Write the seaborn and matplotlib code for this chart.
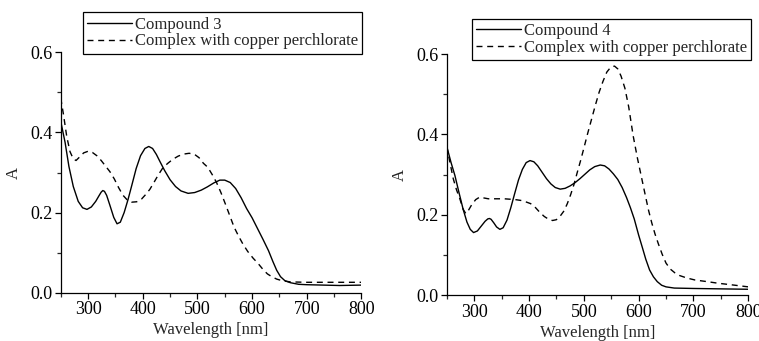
import matplotlib
matplotlib.use("Agg")
import matplotlib.pyplot as plt
from matplotlib.ticker import MultipleLocator, FormatStrFormatter
import seaborn as sns
import pandas as pd

sns.set_theme(style="ticks")
plt.rcParams['font.family'] = ['Liberation Serif', 'DejaVu Serif']

# --- Left panel: compound 3 ---
wl_c3 = [250, 258, 265, 273, 282, 290, 298, 306, 314, 320, 324, 327, 330, 334,
         340, 347, 353, 359, 366, 373, 380, 388, 396, 404, 411, 418, 425, 432,
         440, 450, 460, 470, 483, 495, 507, 518, 530, 541, 550, 560, 570, 580,
         590, 600, 610, 620, 630, 638, 645, 652, 660, 670, 685, 700, 730, 760,
         800]
abs_c3 = [0.428, 0.375, 0.315, 0.265, 0.228, 0.212, 0.208, 0.214, 0.228, 0.242,
          0.251, 0.255, 0.253, 0.243, 0.218, 0.188, 0.172, 0.176, 0.200, 0.232,
          0.268, 0.310, 0.342, 0.360, 0.365, 0.360, 0.345, 0.326, 0.305, 0.282,
          0.265, 0.254, 0.248, 0.250, 0.256, 0.264, 0.274, 0.281, 0.281, 0.275,
          0.260, 0.237, 0.210, 0.187, 0.160, 0.133, 0.105, 0.078, 0.056, 0.040,
          0.030, 0.025, 0.021, 0.020, 0.019, 0.018, 0.019]

wl_cu3 = [250, 255, 261, 267, 273, 278, 284, 292, 300, 308, 316, 324, 332, 340,
          348, 356, 364, 372, 380, 389, 398, 406, 413, 420, 428, 436, 445, 455,
          465, 475, 485, 495, 503, 511, 519, 527, 535, 543, 551, 559, 567, 575,
          583, 592, 602, 611, 620, 628, 636, 645, 655, 670, 700, 750, 800]
abs_cu3 = [0.486, 0.445, 0.390, 0.352, 0.334, 0.330, 0.338, 0.349, 0.353, 0.350,
           0.342, 0.330, 0.316, 0.302, 0.284, 0.262, 0.243, 0.231, 0.226, 0.227,
           0.234, 0.246, 0.258, 0.274, 0.293, 0.310, 0.322, 0.333, 0.341, 0.346,
           0.348, 0.345, 0.337, 0.323, 0.313, 0.295, 0.275, 0.250, 0.222, 0.193,
           0.164, 0.142, 0.122, 0.103, 0.086, 0.073, 0.058, 0.047, 0.040, 0.034,
           0.030, 0.027, 0.026, 0.026, 0.026]

# --- Right panel: compound 4 ---
wl_c4 = [250, 258, 265, 272, 280, 287, 293, 299, 306, 313, 320, 325, 328, 331,
         336, 341, 347, 353, 360, 367, 374, 381, 388, 395, 402, 409, 416, 424,
         432, 440, 448, 457, 466, 475, 484, 493, 502, 511, 520, 530, 538, 546,
         554, 562, 570, 578, 585, 592, 600, 607, 613, 620, 627, 634, 642, 650,
         665, 700, 750, 800]
abs_c4 = [0.371, 0.330, 0.298, 0.258, 0.214, 0.182, 0.164, 0.156, 0.160, 0.172,
          0.184, 0.190, 0.191, 0.189, 0.180, 0.170, 0.164, 0.168, 0.187, 0.218,
          0.253, 0.287, 0.313, 0.330, 0.335, 0.332, 0.322, 0.306, 0.290, 0.277,
          0.268, 0.264, 0.266, 0.272, 0.280, 0.290, 0.301, 0.312, 0.320, 0.324,
          0.322, 0.314, 0.302, 0.288, 0.268, 0.243, 0.218, 0.190, 0.150, 0.118,
          0.090, 0.063, 0.046, 0.034, 0.025, 0.021, 0.018, 0.017, 0.016, 0.015]

wl_cu4 = [250, 256, 262, 268, 274, 280, 285, 290, 296, 303, 310, 318, 326, 335,
          345, 355, 365, 375, 385, 395, 403, 412, 420, 428, 436, 443, 450, 457,
          464, 470, 476, 482, 488, 494, 500, 507, 514, 521, 528, 535, 542, 549,
          556, 562, 568, 575, 582, 590, 598, 605, 612, 618, 624, 630, 636, 643,
          650, 658, 666, 675, 688, 703, 725, 745, 770, 800]
abs_cu4 = [0.371, 0.330, 0.290, 0.262, 0.240, 0.214, 0.203, 0.212, 0.226, 0.238,
           0.244, 0.242, 0.240, 0.240, 0.240, 0.240, 0.239, 0.238, 0.236, 0.232,
           0.228, 0.218, 0.206, 0.196, 0.189, 0.186, 0.188, 0.197, 0.210, 0.228,
           0.250, 0.275, 0.305, 0.334, 0.365, 0.402, 0.437, 0.472, 0.505, 0.532,
           0.555, 0.567, 0.570, 0.563, 0.545, 0.515, 0.468, 0.397, 0.340, 0.295,
           0.250, 0.212, 0.180, 0.152, 0.128, 0.102, 0.080, 0.065, 0.056, 0.049,
           0.043, 0.038, 0.034, 0.030, 0.026, 0.021]

panels = [
    ("Compound 3", wl_c3, abs_c3, wl_cu3, abs_cu3),
    ("Compound 4", wl_c4, abs_c4, wl_cu4, abs_cu4),
]
cu_label = "Complex with copper perchlorate"

FS = 12
TICK_FS = 13
fig = plt.figure(figsize=(7.59, 3.41), dpi=100)
axes = [fig.add_axes([0.080, 0.1416, 0.3962, 0.705]),
        fig.add_axes([0.5885, 0.134, 0.3974, 0.7076])]
legend_anchor = [(1.003, 0.995), (1.01, 0.975)]

for ax, (name, wl, a, wl_cu, a_cu), anchor in zip(axes, panels, legend_anchor):
    sns.lineplot(x=wl, y=a, ax=ax, color="black", lw=1.0, label=name)
    sns.lineplot(x=wl_cu, y=a_cu, ax=ax, color="black", lw=1.0,
                 linestyle=(0, (4.3, 3.4)), label=cu_label)
    ax.set_xlim(250, 800)
    ax.set_ylim(0, 0.6)
    ax.xaxis.set_major_locator(MultipleLocator(100))
    ax.xaxis.set_minor_locator(MultipleLocator(50))
    ax.yaxis.set_major_locator(MultipleLocator(0.2))
    ax.yaxis.set_minor_locator(MultipleLocator(0.1))
    ax.yaxis.set_major_formatter(FormatStrFormatter('%.1f'))
    ax.set_xticks([300, 400, 500, 600, 700, 800])
    ax.tick_params(which='major', direction='out', length=4, width=0.9,
                   labelsize=TICK_FS, pad=2, colors='black')
    ax.tick_params(which='minor', direction='out', length=3, width=0.9)
    for s in ['left', 'bottom']:
        ax.spines[s].set_linewidth(0.9)
        ax.spines[s].set_color('black')
    sns.despine(ax=ax)
    ax.set_xlabel("Wavelength [nm]", fontsize=FS, labelpad=3)
    ax.set_ylabel("A", fontsize=FS, labelpad=6)
    ax.legend(loc='lower right', bbox_to_anchor=anchor, borderaxespad=0,
              frameon=True, fancybox=False, edgecolor='black', framealpha=1,
              fontsize=FS, handlelength=2.7, handletextpad=0.2,
              borderpad=0.25, labelspacing=0.05)
    ax.get_legend().get_frame().set_linewidth(0.9)

fig.savefig("out.png", dpi=100)
